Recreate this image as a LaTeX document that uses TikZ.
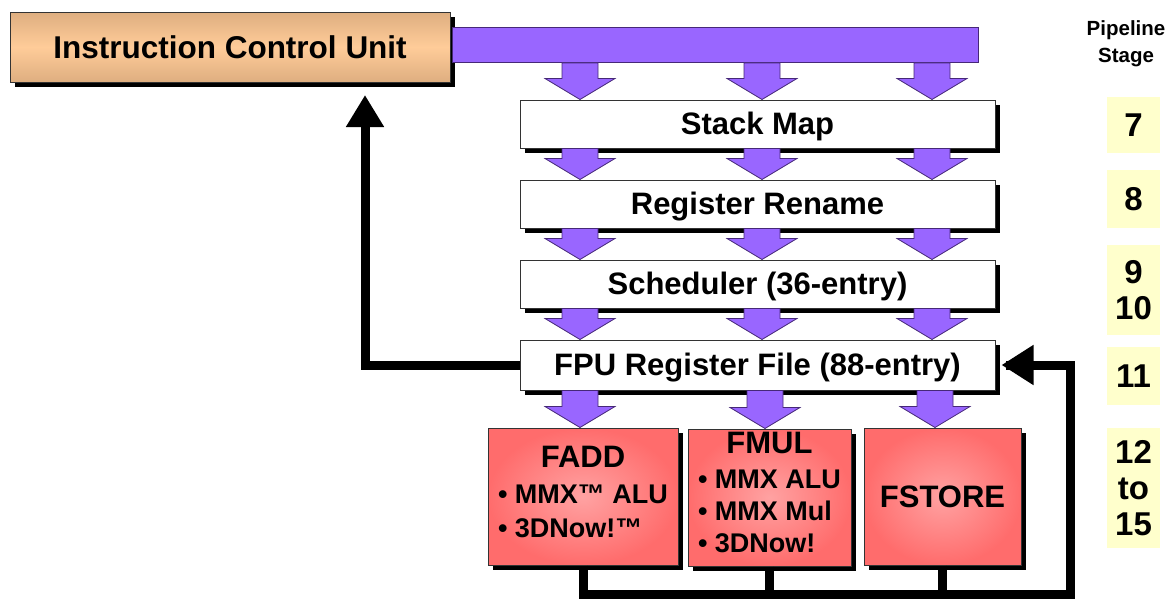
\documentclass[tikz,border=0pt]{standalone}
\usepackage{fontspec}
\setmainfont{Liberation Sans}
\usetikzlibrary{shadows,arrows.meta,calc}
\definecolor{purp}{RGB}{153,102,255}
\definecolor{purpline}{RGB}{70,40,120}
\definecolor{tanmid}{RGB}{255,204,153}
\definecolor{tandark}{RGB}{222,174,128}
\definecolor{redin}{RGB}{255,162,162}
\definecolor{redout}{RGB}{255,108,108}
\definecolor{stagey}{RGB}{255,255,204}
\newcommand\fbig{\fontsize{31}{37}\selectfont}
\newcommand\fmid{\fontsize{27}{34}\selectfont}
\newcommand\fsmall{\fontsize{20.5}{27}\selectfont}
\newcommand\fstage{\fontsize{33}{37}\selectfont}
\newcommand\blk[3]{%
  \coordinate (bt) at (#1,0 |- #2.south);
  \coordinate (bb) at (#1,0 |- #3.north);
  \filldraw[blockarrow] ($(bt)+(-18,0)$) -- ($(bt)+(18,0)$) -- ($(bb)+(18,-21)$) -- ($(bb)+(35,-21)$) -- (bb) -- ($(bb)+(-35,-21)$) -- ($(bb)+(-18,-21)$) -- cycle;}
\begin{document}
\begin{tikzpicture}[x=1pt,y=-1pt,font=\bfseries,
  shad/.style={drop shadow={shadow xshift=5pt,shadow yshift=-5pt,fill=black,opacity=1}},
  whitebox/.style={draw=black!80,line width=1pt,fill=white,shad,minimum width=475pt,minimum height=48pt,inner sep=0pt,text depth=2pt,font=\bfseries\fbig},
  redbox/.style={draw=black!80,line width=1pt,inner color=redin,outer color=redout,shad,minimum height=137pt,inner sep=0pt,align=center,font=\bfseries\fbig},
  stagebox/.style={fill=stagey,minimum width=53pt,inner sep=0pt,align=center,font=\bfseries\fstage},
  blockarrow/.style={fill=purp,draw=purpline,line width=0.8pt,line join=miter},
  fb/.style={line width=9pt,draw=black,line join=miter}]
\useasboundingbox (0,0) rectangle (1169,600);
% top unit and bar
\node[draw=black!80,line width=1pt,top color=tandark,bottom color=tandark,middle color=tanmid,shad,minimum width=440pt,minimum height=70pt,inner sep=0pt,font=\bfseries\fontsize{31.5}{36}\selectfont] (icu) at (230,47) {Instruction Control Unit};
\node[fill=purp,draw=purpline,line width=0.8pt,minimum width=526pt,minimum height=35pt,inner sep=0pt] (bar) at (715,45) {};
% pipeline boxes
\node[whitebox] (sm) at (757.5,124) {Stack Map};
\node[whitebox] (rr) at (757.5,204) {Register Rename};
\node[whitebox] (sch) at (757.5,284) {Scheduler (36-entry)};
\node[whitebox,minimum height=50pt] (fpu) at (757.5,365) {FPU Register File (88-entry)};
\node[redbox,minimum width=190pt] (fadd) at (583,496.5) {FADD\\[-1pt]{\fmid\begin{tabular}[t]{@{}l@{}}• MMX™ ALU\\• 3DNow!™\end{tabular}}};
\node[redbox,minimum width=163pt] (fmul) at (769.5,497.5) {FMUL\\[-2pt]{\fmid\begin{tabular}[t]{@{}l@{}}• MMX ALU\\[-2pt]• MMX Mul\\[-2pt]• 3DNow!\end{tabular}}};
\node[redbox,minimum width=157pt] (fst) at (942.5,496.5) {FSTORE};
% block arrows
\foreach \xx in {580,762,932}{
  \blk{\xx}{bar}{sm}
  \blk{\xx}{sm}{rr}
  \blk{\xx}{rr}{sch}
  \blk{\xx}{sch}{fpu}
}
\blk{580}{fpu}{fadd}
\blk{765}{fpu}{fmul}
\blk{935}{fpu}{fst}
% feedback to ICU
\coordinate (fbtop) at (365,95);
\coordinate (buscorner) at (1070,594);
\draw[fb,-{Triangle[width=36pt,length=32pt]}] (fpu.west) -- (fpu.west -| fbtop) -- (fbtop);
% result bus
\draw[fb] (fadd.south) -- (fadd.south |- buscorner) -- (buscorner) -- (buscorner |- fpu.east) -- ([xshift=10pt]fpu.east);
\draw[fb] (fmul.south) -- (fmul.south |- buscorner);
\draw[fb] (fst.south) -- (fst.south |- buscorner);
\draw[line width=9pt,-{Triangle[width=38pt,length=32pt]}] ([xshift=40pt]fpu.east) -- ([xshift=6pt]fpu.east);
% stage column
\node[font=\bfseries\fsmall,align=center] (ps) at (1126,44) {Pipeline\\Stage};
\node[stagebox,minimum height=56pt] (s7) at (1133.5,125) {7};
\node[stagebox,minimum height=58pt] (s8) at (1133.5,199) {8};
\node[stagebox,minimum height=90pt] (s9) at (1133.5,290) {9\\[-1pt]10};
\node[stagebox,minimum height=58pt] (s11) at (1133.5,376) {11};
\node[stagebox,minimum height=120pt] (s12) at (1133.5,488) {12\\[-1pt]to\\[-1pt]15};
\end{tikzpicture}
\end{document}
